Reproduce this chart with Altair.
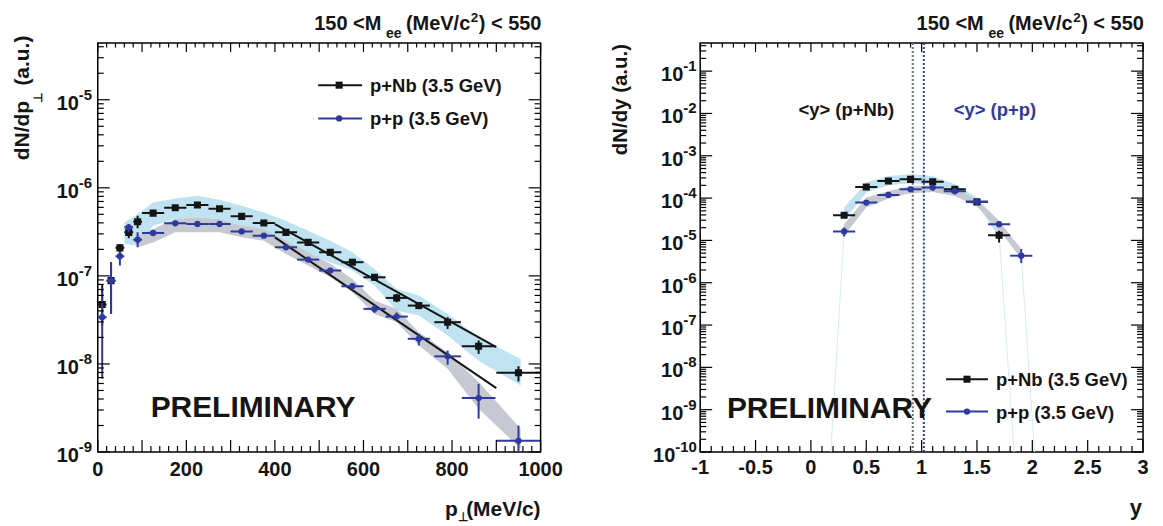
import altair as alt
import pandas as pd

# ---------------- data: left panel, dN/dp_perp ----------------
pt_center = [10, 30, 50, 70, 90, 125, 175, 225, 275, 325, 375, 425, 475, 525, 575, 625, 675, 725, 790, 860, 950]
pt_halfwidth = [10, 10, 10, 10, 10, 25, 25, 25, 25, 25, 25, 25, 25, 25, 25, 25, 25, 25, 30, 38, 50]

nb_pt = [4.72e-8, 8.83e-8, 2.08e-7, 3.12e-7, 4.12e-7, 5.16e-7, 5.94e-7, 6.37e-7, 5.79e-7, 4.74e-7,
         3.98e-7, 3.12e-7, 2.40e-7, 1.85e-7, 1.43e-7, 9.64e-8, 5.62e-8, 4.60e-8, 2.98e-8, 1.59e-8, 7.93e-9]
nb_pt_lo = [2.73e-8, 3.70e-8, 1.82e-7, 2.67e-7, 3.47e-7, 4.90e-7, 5.65e-7, 6.05e-7, 5.50e-7, 4.50e-7,
            3.78e-7, 2.95e-7, 2.25e-7, 1.73e-7, 1.33e-7, 8.90e-8, 5.02e-8, 4.20e-8, 2.50e-8, 1.30e-8, 6.33e-9]
nb_pt_hi = [8.10e-8, 1.43e-7, 2.30e-7, 3.56e-7, 4.82e-7, 5.45e-7, 6.25e-7, 6.70e-7, 6.10e-7, 5.00e-7,
            4.20e-7, 3.30e-7, 2.55e-7, 1.98e-7, 1.54e-7, 1.05e-7, 6.24e-8, 5.00e-8, 3.39e-8, 1.85e-8, 9.44e-9]

pp_pt = [3.39e-8, 8.83e-8, 1.67e-7, 3.56e-7, 2.58e-7, 3.07e-7, 3.95e-7, 3.88e-7, 3.88e-7, 3.20e-7,
         2.86e-7, 2.11e-7, 1.53e-7, 1.15e-7, 7.62e-8, 4.22e-8, 3.45e-8, 1.93e-8, 1.22e-8, 4.10e-9, 1.34e-9]
pp_pt_lo = [6.78e-9, 3.70e-8, 1.31e-7, 3.12e-7, 2.11e-7, 2.95e-7, 3.80e-7, 3.73e-7, 3.73e-7, 3.07e-7,
            2.73e-7, 2.00e-7, 1.44e-7, 1.07e-7, 7.00e-8, 3.80e-8, 3.10e-8, 1.62e-8, 9.80e-9, 2.39e-9, 5.0e-10]
pp_pt_hi = [6.52e-8, 1.43e-7, 1.88e-7, 3.88e-7, 3.12e-7, 3.20e-7, 4.10e-7, 4.03e-7, 4.03e-7, 3.33e-7,
            2.99e-7, 2.22e-7, 1.62e-7, 1.23e-7, 8.30e-8, 4.70e-8, 3.85e-8, 2.20e-8, 1.42e-8, 5.95e-9, 2.00e-9]

nb_band_pt_x = [60, 90, 125, 175, 225, 275, 325, 375, 425, 475, 525, 575, 625, 675, 725, 790, 860, 955]
nb_band_pt_hi = [4.05e-7, 5.04e-7, 6.83e-7, 7.58e-7, 8.13e-7, 7.32e-7, 6.26e-7, 5.26e-7, 4.23e-7, 3.26e-7,
                 2.51e-7, 1.85e-7, 1.20e-7, 7.11e-8, 5.97e-8, 3.70e-8, 2.01e-8, 1.14e-8]
nb_band_pt_lo = [2.30e-7, 2.20e-7, 3.72e-7, 4.42e-7, 4.62e-7, 4.42e-7, 3.72e-7, 3.12e-7, 2.51e-7, 1.77e-7,
                 1.43e-7, 1.15e-7, 7.76e-8, 4.04e-8, 3.55e-8, 2.10e-8, 1.09e-8, 5.70e-9]

pp_band_pt_x = [90, 125, 175, 225, 275, 325, 375, 425, 475, 525, 575, 625, 675, 725, 790, 860, 955]
pp_band_pt_hi = [2.86e-7, 3.41e-7, 4.42e-7, 4.62e-7, 4.42e-7, 3.72e-7, 3.41e-7, 2.51e-7, 1.85e-7, 1.37e-7,
                 9.23e-8, 5.25e-8, 4.22e-8, 2.29e-8, 1.36e-8, 6.22e-9, 1.84e-9]
pp_band_pt_lo = [2.11e-7, 2.40e-7, 3.12e-7, 3.12e-7, 3.12e-7, 2.74e-7, 2.51e-7, 1.77e-7, 1.31e-7, 9.64e-8,
                 6.52e-8, 3.70e-8, 2.98e-8, 1.62e-8, 8.81e-9, 3.10e-9, 1.09e-9]

fit_pt_x = [400, 900]
fit_nb = [3.88e-7, 1.55e-8]
fit_pp = [2.74e-7, 5.31e-9]

# ---------------- data: right panel, dN/dy ----------------
nb_y_center = [0.3, 0.5, 0.7, 0.9, 1.1, 1.3, 1.5, 1.7]
nb_y = [3.94e-5, 1.83e-4, 2.54e-4, 2.77e-4, 2.44e-4, 1.61e-4, 8.15e-5, 1.33e-5]
nb_y_lo = [3.60e-5, 1.72e-4, 2.40e-4, 2.62e-4, 2.30e-4, 1.52e-4, 7.60e-5, 8.97e-6]
nb_y_hi = [4.30e-5, 1.95e-4, 2.70e-4, 2.93e-4, 2.60e-4, 1.71e-4, 8.70e-5, 1.69e-5]

pp_y_center = [0.3, 0.5, 0.7, 0.9, 1.1, 1.3, 1.5, 1.7, 1.9]
pp_y = [1.63e-5, 7.84e-5, 1.19e-4, 1.61e-4, 1.77e-4, 1.45e-4, 8.15e-5, 2.42e-5, 4.37e-6]
pp_y_lo = [1.24e-5, 7.40e-5, 1.13e-4, 1.54e-4, 1.70e-4, 1.39e-4, 7.70e-5, 2.20e-5, 2.92e-6]
pp_y_hi = [2.02e-5, 8.30e-5, 1.25e-4, 1.68e-4, 1.84e-4, 1.51e-4, 8.60e-5, 2.65e-5, 6.24e-6]
y_halfwidth = 0.1

nb_band_y_hi = [5.97e-5, 2.32e-4, 3.32e-4, 3.64e-4, 3.32e-4, 2.11e-4, 1.03e-4, 2.21e-5]
nb_band_y_lo = [2.90e-5, 1.35e-4, 2.00e-4, 2.23e-4, 2.11e-4, 1.35e-4, 7.16e-5, 1.18e-5]
pp_band_y_hi = [2.42e-5, 1.03e-4, 1.48e-4, 1.93e-4, 2.00e-4, 1.61e-4, 9.38e-5, 2.90e-5, 6.25e-6]
pp_band_y_lo = [1.29e-5, 5.97e-5, 9.73e-5, 1.30e-4, 1.40e-4, 1.12e-4, 6.31e-5, 1.78e-5, 3.64e-6]

tail_id = ["a", "a", "b", "b", "c", "c"]
tail_x = [0.3, 0.18, 1.7, 1.835, 1.9, 2.02]
tail_v = [1.63e-5, 1e-10, 1.33e-5, 1e-10, 4.37e-6, 1e-10]

mean_y = [0.92, 1.02]
mean_labels = ["<y> (p+Nb)", "<y> (p+p)"]

series_names = ["p+Nb (3.5 GeV)", "p+p (3.5 GeV)"]
title_parts = ["150 <M", "ee", "(MeV/c", "2", ") < 550"]

left_xlabels = [0, 200, 400, 600, 800, 1000]
right_xlabels = [-1, -0.5, 0, 0.5, 1, 1.5, 2, 2.5, 3]
right_xlabel_text = ["-1", "-0.5", "0", "0.5", "1", "1.5", "2", "2.5", "3"]
left_exps = [-9, -8, -7, -6, -5]
right_exps = [-10, -9, -8, -7, -6, -5, -4, -3, -2, -1]

# ---------------- style ----------------
FONT = "Liberation Sans"
W, H = 444, 410
BLACK = "#151515"
BLUE = "#2e3a9e"
LBLUE = "#bfe3f0"
GREY = "#c6c9d2"
TAIL = "#d2ecf5"

sx_l = alt.Scale(domain=[0, 1000], nice=False, zero=False)
sy_l = alt.Scale(type="log", domain=[1e-9, 4.4e-5], nice=False)
sx_r = alt.Scale(domain=[-1, 3], nice=False, zero=False)
sy_r = alt.Scale(type="log", domain=[1e-10, 0.46], nice=False)


def X(f, s):
    return alt.X(f, scale=s, axis=None)


def Y(f, s):
    return alt.Y(f, scale=s, axis=None)


def band(x, hi, lo, color, sx, sy):
    d = pd.DataFrame({"x": x, "hi": hi, "lo": lo})
    return alt.Chart(d).mark_area(color=color, opacity=1, clip=True).encode(
        x=X("x:Q", sx), y=Y("hi:Q", sy), y2="lo:Q")


def errbars(x, hw, v, lo, hi, color, sx, sy):
    d = pd.DataFrame({"x": x, "x0": [a - b for a, b in zip(x, hw)], "x1": [a + b for a, b in zip(x, hw)],
                      "v": v, "lo": lo, "hi": hi})
    h = alt.Chart(d).mark_rule(color=color, strokeWidth=2, clip=True).encode(
        x=X("x0:Q", sx), x2="x1:Q", y=Y("v:Q", sy))
    vv = alt.Chart(d).mark_rule(color=color, strokeWidth=2, clip=True).encode(
        x=X("x:Q", sx), y=Y("lo:Q", sy), y2="hi:Q")
    return [h, vv]


def points(x, v, color, shape, size, sx, sy):
    d = pd.DataFrame({"x": x, "v": v})
    return alt.Chart(d).mark_point(shape=shape, filled=True, color=color, size=size, opacity=1, clip=True).encode(
        x=X("x:Q", sx), y=Y("v:Q", sy))


def ticks(sx, sy, xmaj, xmin, ymaj, ymin):
    out = []
    for vals, L, Lt in [(xmaj, 12, 9), (xmin, 6, 4.5)]:
        d = pd.DataFrame({"x": vals})
        out.append(alt.Chart(d).mark_rule(color="black", strokeWidth=1.2).encode(
            x=X("x:Q", sx), y=alt.value(H), y2=alt.value(H - L)))
        out.append(alt.Chart(d).mark_rule(color="black", strokeWidth=1.2).encode(
            x=X("x:Q", sx), y=alt.value(0), y2=alt.value(Lt)))
    for vals, L in [(ymaj, 12), (ymin, 6)]:
        d = pd.DataFrame({"y": vals})
        out.append(alt.Chart(d).mark_rule(color="black", strokeWidth=1.2).encode(
            y=Y("y:Q", sy), x=alt.value(0), x2=alt.value(L)))
        out.append(alt.Chart(d).mark_rule(color="black", strokeWidth=1.2).encode(
            y=Y("y:Q", sy), x=alt.value(W), x2=alt.value(W - L)))
    return out


def ylabels(exps, sy, xpos):
    d = pd.DataFrame({"v": [10.0 ** e for e in exps], "b": ["10"] * len(exps), "e": [str(e) for e in exps]})
    base = alt.Chart(d).mark_text(font=FONT, fontWeight="bold", fontSize=20, color=BLACK, align="right",
                                  baseline="middle", dy=4).encode(x=alt.value(xpos), y=Y("v:Q", sy), text="b:N")
    ex = alt.Chart(d).mark_text(font=FONT, fontWeight="bold", fontSize=15, color=BLACK, align="left",
                                baseline="middle", dy=-5).encode(x=alt.value(xpos), y=Y("v:Q", sy), text="e:N")
    return [base, ex]


def xlabels(vals, texts, sx, ypos):
    d = pd.DataFrame({"x": vals, "t": texts})
    return alt.Chart(d).mark_text(font=FONT, fontWeight="bold", fontSize=20, color=BLACK, align="center",
                                  baseline="top").encode(x=X("x:Q", sx), y=alt.value(ypos), text="t:N")


def txt(s, x, y, size, color=BLACK, align="left", baseline="alphabetic", angle=0):
    return alt.Chart(pd.DataFrame({"t": [s]})).mark_text(
        font=FONT, fontWeight="bold", fontSize=size, color=color, align=align, baseline=baseline,
        angle=angle).encode(x=alt.value(x), y=alt.value(y), text="t:N")


def title_top():
    offs = [(-227, -13.5, 20), (-155, -5.5, 14), (-135, -13.5, 20), (-70, -21.5, 13.5), (-62, -13.5, 20)]
    return [txt(p, W + dx, y, fs) for p, (dx, y, fs) in zip(title_parts, offs)]


def legend(x0, x1, xm, xt, rows):
    out = []
    for name, color, shape, size, yr in zip(series_names, [BLACK, BLUE], ["square", "circle"], [50, 40], rows):
        d = pd.DataFrame({"t": [name]})
        out.append(alt.Chart(d).mark_rule(color=color, strokeWidth=2).encode(
            x=alt.value(x0), x2=alt.value(x1), y=alt.value(yr)))
        out.append(alt.Chart(d).mark_point(shape=shape, filled=True, color=color, size=size, opacity=1).encode(
            x=alt.value(xm), y=alt.value(yr)))
        out.append(alt.Chart(d).mark_text(font=FONT, fontWeight="bold", fontSize=18.5, color=BLACK, align="left",
                                          baseline="middle", dy=1).encode(x=alt.value(xt), y=alt.value(yr), text="t:N"))
    return out


# ---------------- left panel ----------------
L = []
L.append(band(nb_band_pt_x, nb_band_pt_hi, nb_band_pt_lo, LBLUE, sx_l, sy_l))
L.append(band(pp_band_pt_x, pp_band_pt_hi, pp_band_pt_lo, GREY, sx_l, sy_l))
fit_df = pd.DataFrame({"x": fit_pt_x * 2, "v": fit_nb + fit_pp, "id": ["nb"] * 2 + ["pp"] * 2})
L.append(alt.Chart(fit_df).mark_line(color=BLACK, strokeWidth=2).encode(
    x=X("x:Q", sx_l), y=Y("v:Q", sy_l), detail="id:N"))
L += errbars(pt_center, pt_halfwidth, nb_pt, nb_pt_lo, nb_pt_hi, BLACK, sx_l, sy_l)
L.append(points(pt_center, nb_pt, BLACK, "square", 50, sx_l, sy_l))
L += errbars(pt_center, pt_halfwidth, pp_pt, pp_pt_lo, pp_pt_hi, BLUE, sx_l, sy_l)
L.append(points(pt_center, pp_pt, BLUE, "circle", 40, sx_l, sy_l))
L += ticks(sx_l, sy_l,
           list(range(0, 1001, 100)), [v for v in range(0, 1001, 20) if v % 100],
           [10.0 ** e for e in left_exps],
           [m * 10.0 ** e for e in left_exps for m in range(2, 10) if m * 10.0 ** e <= 4.4e-5])
L += ylabels(left_exps, sy_l, -19)
L.append(xlabels(left_xlabels, [str(v) for v in left_xlabels], sx_l, H + 8.5))
L += title_top()
L.append(txt("dN/dp", -69, 117.5, 21, angle=270))
L.append(txt("⊥", -56, 55, 12, align="center", angle=270))
L.append(txt("(a.u.)", -69, -7.5, 21, align="right", angle=270))
L.append(txt("(MeV/c)", W, H + 64, 21, align="right"))
L.append(txt("p", W - 83, H + 64, 21, align="right"))
L.append(txt("⊥", W - 83, H + 69, 12, align="left"))
L.append(txt("PRELIMINARY", 53, 374.5, 30))
L += legend(221, 265, 242, 273, [42.2, 75.5])
left = alt.layer(*L).properties(width=W, height=H)

# ---------------- right panel ----------------
R = []
R.append(band(nb_y_center, nb_band_y_hi, nb_band_y_lo, LBLUE, sx_r, sy_r))
R.append(band(pp_y_center, pp_band_y_hi, pp_band_y_lo, GREY, sx_r, sy_r))
tail_df = pd.DataFrame({"x": tail_x, "v": tail_v, "id": tail_id})
R.append(alt.Chart(tail_df).mark_line(color=TAIL, strokeWidth=1, clip=True).encode(
    x=X("x:Q", sx_r), y=Y("v:Q", sy_r), detail="id:N"))
mean_df = pd.DataFrame({"x": mean_y, "c": ["#6e6e6e", BLUE]})
R.append(alt.Chart(mean_df).mark_rule(strokeWidth=2, strokeDash=[2, 2]).encode(
    x=X("x:Q", sx_r), y=alt.value(0), y2=alt.value(H), color=alt.Color("c:N", scale=None)))
R += errbars(nb_y_center, [y_halfwidth] * len(nb_y_center), nb_y, nb_y_lo, nb_y_hi, BLACK, sx_r, sy_r)
R.append(points(nb_y_center, nb_y, BLACK, "square", 50, sx_r, sy_r))
R += errbars(pp_y_center, [y_halfwidth] * len(pp_y_center), pp_y, pp_y_lo, pp_y_hi, BLUE, sx_r, sy_r)
R.append(points(pp_y_center, pp_y, BLUE, "circle", 40, sx_r, sy_r))
R += ticks(sx_r, sy_r,
           [-1 + 0.5 * i for i in range(9)], [round(-1 + 0.1 * i, 1) for i in range(41) if i % 5],
           [10.0 ** e for e in right_exps],
           [m * 10.0 ** e for e in right_exps for m in range(2, 10) if m * 10.0 ** e <= 0.46])
R += ylabels([e for e in right_exps if e > -10], sy_r, -17)
R += ylabels([e for e in right_exps if e <= -10], sy_r, -25)
R.append(xlabels(right_xlabels, right_xlabel_text, sx_r, H + 6.5))
R += title_top()
R.append(txt("dN/dy (a.u.)", -73.5, 112.5, 20.5, angle=270))
R.append(txt("y", W - 1, H + 63, 22, align="right"))
R.append(txt(mean_labels[0], 146.5, 67.5, 18.5, color=BLACK, align="center", baseline="middle"))
R.append(txt(mean_labels[1], 295.5, 67.5, 18.5, color=BLUE, align="center", baseline="middle"))
R.append(txt("PRELIMINARY", 26.8, 376, 30))
R += legend(246.5, 288.5, 267.5, 296.5, [337, 369.5])
right = alt.layer(*R).properties(width=W, height=H)

chart = alt.hconcat(left, right, spacing=160, bounds="flush").configure_view(
    stroke="black", strokeWidth=1.5).properties(
    padding={"left": 3, "top": 0.5, "right": 5, "bottom": 0})

chart.save("out.html", embed_options={"renderer": "svg", "actions": False})
